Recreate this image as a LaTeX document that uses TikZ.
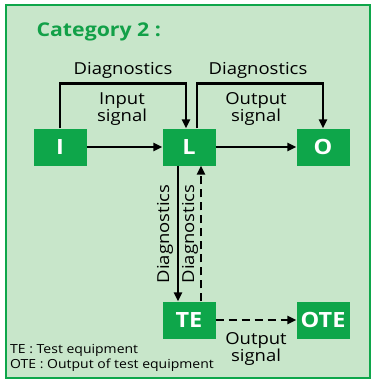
\documentclass[tikz,border=0pt]{standalone}
\usepackage{fontspec}
\setmainfont{Open Sans}[FakeStretch=1.12]
\usetikzlibrary{arrows.meta}
\definecolor{Gbox}{RGB}{14,166,74}
\definecolor{Gback}{RGB}{200,230,202}
\definecolor{Gtext}{RGB}{18,160,72}

\begin{document}
\begin{tikzpicture}[x=1pt,y=-1pt,
  blk/.style={fill=Gbox,minimum width=53pt,minimum height=37pt,inner sep=0pt,text=white,font=\bfseries\fontsize{21}{21}\selectfont},
  lbl/.style={font=\fontsize{16.5}{17}\selectfont,align=center,inner sep=1pt},
  sig/.style={line width=2.8pt,-{Triangle[length=9pt,width=8pt]}},
  dsh/.style={dash pattern=on 8pt off 5pt}]
\path[use as bounding box] (0,0) rectangle (375,383);
\fill[white] (0,0) rectangle (375,383);
\draw[line width=2.5pt,draw=Gbox,fill=Gback] (6,5) rectangle (370,378);
\node[anchor=west,text=Gtext,font=\bfseries\fontsize{19}{19}\selectfont] (title) at (33,32) {Category 2 :};
% blocks
\node[blk] (I) at (60,147) {I};
\node[blk] (L) at (189,147) {L};
\node[blk] (O) at (323,147) {O};
\node[blk] (TE) at (189,320) {TE};
\node[blk] (OTE) at (323,320) {OTE};
% signal paths
\draw[sig] (I) -- (L);
\draw[sig] (L) -- (O);
\draw[sig] (I.north) -- ++(0,-45) -| ([xshift=-3pt]L.north);
\draw[sig] ([xshift=8pt]L.north) -- ++(0,-45) -| (O.north);
\draw[sig] ([xshift=-11pt]L.south) -- ([xshift=-11pt]TE.north);
\draw[sig,dsh] ([xshift=12pt]TE.north) -- ([xshift=12pt]L.south);
\draw[sig,dsh] (TE) -- (OTE);
% labels
\node[lbl] (diagIL) at (123,70) {Diagnostics};
\node[lbl] (diagLO) at (258,70) {Diagnostics};
\node[lbl] (insig) at (122,109) {Input\\signal};
\node[lbl] (outsig) at (256,109) {Output\\signal};
\node[lbl,rotate=90] (diagdown) at (165,234) {Diagnostics};
\node[lbl,rotate=90] (diagup) at (190,234) {Diagnostics};
\node[lbl] (tesig) at (256,349) {Output\\signal};
\node[anchor=west,align=left,inner sep=0pt,font=\fontsize{12.5}{15}\selectfont] (legend) at (10,358) {TE : Test equipment\\OTE : Output of test equipment};
\end{tikzpicture}
\end{document}
